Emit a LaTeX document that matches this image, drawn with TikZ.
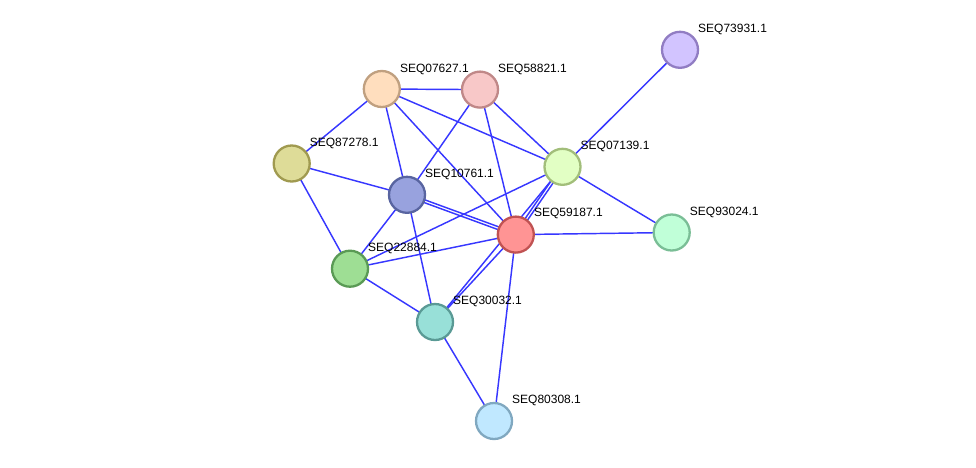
\documentclass[tikz,border=0pt]{standalone}
\usepackage{fontspec}
\setmainfont{Liberation Sans}
\usetikzlibrary{backgrounds,calc}
\definecolor{edgeblue}{RGB}{55,55,255}
\tikzset{
  prot/.style={circle, minimum size=36pt, inner sep=0pt, line width=2.3pt},
  lab/.style={anchor=west, font=\fontsize{12}{12}\selectfont, inner sep=0pt, text=black},
  edge/.style={draw=edgeblue, line width=1.45pt},
}
\begin{document}
\begin{tikzpicture}[x=1pt,y=-1pt]
\useasboundingbox (0,0) rectangle (976,467);
\node[prot, fill={rgb,255:red,210;green,196;blue,255}, draw={rgb,255:red,145;green,125;blue,195}] (n73931) at (680,49.8) {};
\node[prot, fill={rgb,255:red,255;green,222;blue,190}, draw={rgb,255:red,192;green,160;blue,128}] (n07627) at (381.8,89) {};
\node[prot, fill={rgb,255:red,248;green,200;blue,200}, draw={rgb,255:red,192;green,136;blue,136}] (n58821) at (480,89.6) {};
\node[prot, fill={rgb,255:red,222;green,220;blue,152}, draw={rgb,255:red,160;green,154;blue,80}] (n87278) at (291.7,163.5) {};
\node[prot, fill={rgb,255:red,226;green,255;blue,196}, draw={rgb,255:red,162;green,190;blue,122}] (n07139) at (562.5,166.8) {};
\node[prot, fill={rgb,255:red,152;green,162;blue,222}, draw={rgb,255:red,88;green,100;blue,160}] (n10761) at (407,194.8) {};
\node[prot, fill={rgb,255:red,255;green,148;blue,148}, draw={rgb,255:red,192;green,82;blue,82}] (n59187) at (515.8,234.6) {};
\node[prot, fill={rgb,255:red,192;green,255;blue,216}, draw={rgb,255:red,122;green,190;blue,150}] (n93024) at (671.7,232.5) {};
\node[prot, fill={rgb,255:red,158;green,222;blue,148}, draw={rgb,255:red,90;green,154;blue,85}] (n22884) at (350,268.7) {};
\node[prot, fill={rgb,255:red,152;green,224;blue,216}, draw={rgb,255:red,90;green,154;blue,149}] (n30032) at (435,322) {};
\node[prot, fill={rgb,255:red,192;green,232;blue,255}, draw={rgb,255:red,128;green,168;blue,192}] (n80308) at (494,421) {};

\node[lab] (l73931) at ($(n73931)+(18,-20.5)$) {SEQ73931.1};
\node[lab] (l07627) at ($(n07627)+(18,-20)$) {SEQ07627.1};
\node[lab] (l58821) at ($(n58821)+(18,-20.5)$) {SEQ58821.1};
\node[lab] (l87278) at ($(n87278)+(18,-20.5)$) {SEQ87278.1};
\node[lab] (l07139) at ($(n07139)+(18,-20.5)$) {SEQ07139.1};
\node[lab] (l10761) at ($(n10761)+(18,-20.5)$) {SEQ10761.1};
\node[lab] (l59187) at ($(n59187)+(18,-20.8)$) {SEQ59187.1};
\node[lab] (l93024) at ($(n93024)+(18,-20.5)$) {SEQ93024.1};
\node[lab] (l22884) at ($(n22884)+(18,-20.5)$) {SEQ22884.1};
\node[lab] (l30032) at ($(n30032)+(18,-20.5)$) {SEQ30032.1};
\node[lab] (l80308) at ($(n80308)+(18,-20.5)$) {SEQ80308.1};

\begin{scope}[on background layer]
\fill[white] (0,0) rectangle (976,467);
\draw[edge] (n73931.center) -- (n07139.center);
\draw[edge] (n07627.center) -- (n58821.center);
\draw[edge] (n07627.center) -- (n87278.center);
\draw[edge] (n07627.center) -- (n10761.center);
\draw[edge] (n07627.center) -- (n59187.center);
\draw[edge] (n07627.center) -- (n07139.center);
\draw[edge] (n58821.center) -- (n10761.center);
\draw[edge] (n58821.center) -- (n59187.center);
\draw[edge] (n58821.center) -- (n07139.center);
\draw[edge] (n87278.center) -- (n10761.center);
\draw[edge] (n87278.center) -- (n22884.center);
\draw[edge] (n07139.center) -- (n22884.center);
\draw[edge] (n07139.center) -- (n93024.center);
\draw[edge] (n07139.center) -- (n30032.center);
\draw[edge] ($(n07139.center)!1.4pt!90:(n59187.center)$) -- ($(n59187.center)!1.4pt!-90:(n07139.center)$);
\draw[edge] ($(n07139.center)!1.4pt!-90:(n59187.center)$) -- ($(n59187.center)!1.4pt!90:(n07139.center)$);
\draw[edge] ($(n10761.center)!1.4pt!90:(n59187.center)$) -- ($(n59187.center)!1.4pt!-90:(n10761.center)$);
\draw[edge] ($(n10761.center)!1.4pt!-90:(n59187.center)$) -- ($(n59187.center)!1.4pt!90:(n10761.center)$);
\draw[edge] (n10761.center) -- (n22884.center);
\draw[edge] (n10761.center) -- (n30032.center);
\draw[edge] (n59187.center) -- (n22884.center);
\draw[edge] (n59187.center) -- (n30032.center);
\draw[edge] (n59187.center) -- (n93024.center);
\draw[edge] (n59187.center) -- (n80308.center);
\draw[edge] (n22884.center) -- (n30032.center);
\draw[edge] (n30032.center) -- (n80308.center);
\end{scope}
\end{tikzpicture}
\end{document}
